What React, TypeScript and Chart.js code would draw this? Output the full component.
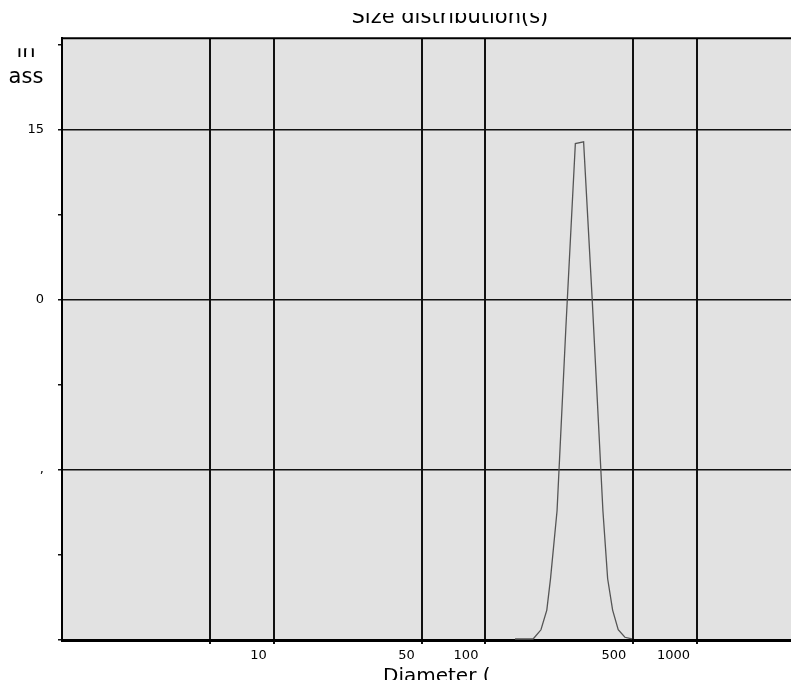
import { useEffect, useRef } from "react";
import { Chart, registerables } from "chart.js";

Chart.register(...registerables);

// Particle size distribution (diameter in nm, share in %)
const diameterNm = [138, 168, 183, 195, 203, 218, 240, 266, 291, 319, 359, 378, 399, 424, 456, 493];
const massPct = [0.03, 0.03, 0.3, 0.88, 1.8, 3.8, 9.2, 14.6, 14.65, 10.1, 3.8, 1.8, 0.88, 0.3, 0.08, 0.03];

const xTickValues = [5, 10, 50, 100, 500, 1000];
const xTickLabels = ["", "10", "50", "100", "500", "1000"];
const yTickValues = [0, 2.5, 5, 7.5, 10, 12.5, 15, 17.5];
const yTickLabels = ["", "", ",", "", "0", "", "15", ""];
const yGridValues = [5, 10, 15];

const chartTitle = "Size distribution(s)";
const xCaption = "Diameter (";
const yCaptionLines = ["in", "ass"];

const FONT = "'DejaVu Sans', sans-serif";

// Grey plot background, top frame line and the free-standing axis captions
const plotFrame = {
  id: "plotFrame",
  beforeDraw(chart: any) {
    const { ctx, chartArea: a } = chart;
    ctx.save();
    ctx.fillStyle = "#e2e2e2";
    ctx.fillRect(a.left, a.top, a.right - a.left, a.bottom - a.top);
    ctx.restore();
  },
  afterDraw(chart: any) {
    const { ctx, chartArea: a } = chart;
    ctx.save();
    ctx.strokeStyle = "#000";
    ctx.lineWidth = 2;
    ctx.beginPath();
    ctx.moveTo(a.left, a.top);
    ctx.lineTo(a.right, a.top);
    ctx.stroke();

    ctx.fillStyle = "#000";
    ctx.textBaseline = "alphabetic";
    ctx.font = `20px ${FONT}`;
    ctx.textAlign = "left";
    ctx.fillText(xCaption, a.left + 321, a.bottom + 41.6);

    ctx.font = `21px ${FONT}`;
    ctx.textAlign = "center";
    ctx.beginPath();
    ctx.rect(0, a.top + 10, a.left, a.bottom - a.top);
    ctx.clip();
    ctx.fillText(yCaptionLines[0], a.left - 36, a.top + 19);
    ctx.fillText(yCaptionLines[1], a.left - 36, a.top + 44.7);
    ctx.restore();
  },
};

export default function App() {
  const canvasRef = useRef<HTMLCanvasElement>(null);

  useEffect(() => {
    const canvas = canvasRef.current;
    if (!canvas) return;
    const chart = new Chart(canvas, {
      type: "line",
      data: {
        datasets: [
          {
            data: diameterNm.map((d, i) => ({ x: d, y: massPct[i] })),
            borderColor: "#555",
            borderWidth: 1.3,
            pointRadius: 0,
            tension: 0,
            fill: false,
          },
        ],
      },
      options: {
        responsive: false,
        animation: false,
        layout: { padding: { left: 0, right: 12.2, top: 0, bottom: 35 } },
        plugins: {
          legend: { display: false },
          tooltip: { enabled: false },
          title: {
            display: true,
            text: chartTitle,
            color: "#000",
            font: { family: FONT, size: 21, weight: "normal" },
            padding: { top: 0, bottom: 8 },
          },
        },
        scales: {
          x: {
            type: "logarithmic",
            min: 1,
            max: 10000,
            afterBuildTicks: (s: any) => {
              s.ticks = xTickValues.map((v) => ({ value: v }));
            },
            afterFit: (s: any) => {
              s.height = 30;
            },
            grid: { color: "#111", lineWidth: 2, tickLength: 4, tickColor: "#111" },
            border: { color: "#000", width: 3 },
            ticks: {
              autoSkip: false,
              maxRotation: 0,
              align: "end",
              labelOffset: -7,
              padding: 4,
              color: "#000",
              font: { family: FONT, size: 13 },
              callback: (v: any) => {
                const i = xTickValues.indexOf(Number(v));
                return i >= 0 ? xTickLabels[i] : "";
              },
            },
          },
          y: {
            type: "linear",
            min: 0,
            max: 17.7,
            afterBuildTicks: (s: any) => {
              s.ticks = yTickValues.map((v) => ({ value: v }));
            },
            afterFit: (s: any) => {
              s.width = 71;
            },
            grid: {
              color: (c: any) =>
                c.tick && yGridValues.includes(c.tick.value) ? "#111" : "rgba(0,0,0,0)",
              lineWidth: 1.5,
              tickLength: 4,
              tickColor: "#111",
            },
            border: { color: "#000", width: 2 },
            ticks: {
              autoSkip: false,
              padding: 14,
              color: "#000",
              font: { family: FONT, size: 13 },
              callback: (v: any) => {
                const i = yTickValues.indexOf(Number(v));
                return i >= 0 ? yTickLabels[i] : "";
              },
            },
          },
        },
      } as any,
      plugins: [plotFrame],
    });
    return () => chart.destroy();
  }, []);

  return (
    <div
      style={{
        position: "fixed",
        left: 0,
        top: 13,
        width: 791,
        height: 667,
        overflow: "hidden",
        background: "#fff",
      }}
    >
      <canvas
        ref={canvasRef}
        width={930}
        height={700}
        style={{ position: "absolute", left: -9, top: -8 }}
      />
    </div>
  );
}
